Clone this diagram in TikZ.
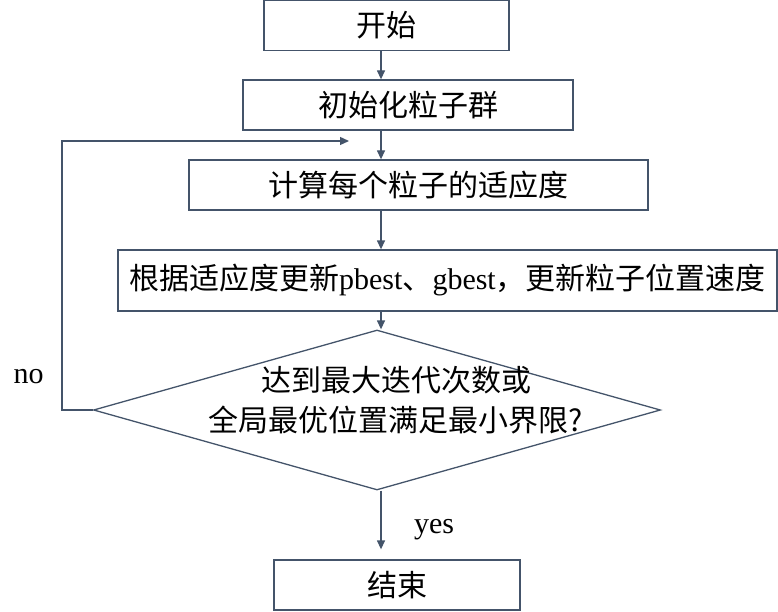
\documentclass[tikz,border=0pt]{standalone}
\usepackage{fontspec}
\setmainfont{Liberation Serif}
\newfontfamily\cjk{Noto Sans CJK SC}
\usepackage{tikz}
\usetikzlibrary{positioning, arrows.meta, shapes.geometric}
\definecolor{linegray}{HTML}{44546A}

\begin{document}
\begin{tikzpicture}[
                x=1pt, y=-1pt,
                boxnode/.style={draw=linegray, line width=1.3pt, rectangle, inner sep=0pt, minimum height=50pt, font=\fontsize{30}{40}\selectfont},
                decnode/.style={draw=linegray, line width=1.3pt, diamond, inner sep=0pt, minimum width=567pt, minimum height=160pt},
                cjktxt/.style={inner sep=0pt, font=\fontsize{30}{40}\selectfont\cjk},
                txt/.style={inner sep=0pt, font=\fontsize{30}{40}\selectfont},
                arr/.style={draw=linegray, line width=1.3pt, -{Triangle[length=9pt, width=8pt]}}
                ]
                \useasboundingbox (0,0) rectangle (778,612);

                % 상자 배치
                \node[boxnode, minimum width=245pt] (start) at (386.5,25.5) {\cjk 开始};
                \node[boxnode, minimum width=330pt] (init) at (408,105) {\cjk 初始化粒子群};
                \node[boxnode, minimum width=459pt] (fitness) at (418.5,185) {\cjk 计算每个粒子的适应度};
                \node[boxnode, minimum width=659pt, minimum height=61pt] (update) at (447.5,280.5) {{\cjk 根据适应度更新}pbest{\cjk 、}gbest{\cjk ，更新粒子位置速度}};
                \node[decnode] (check) at (377,410) {};
                \node[cjktxt, align=center] (checktext) at (396,400) {达到最大迭代次数或\\全局最优位置满足最小界限?};
                \node[boxnode, minimum width=246pt] (finish) at (397,585) {\cjk 结束};

                % 보조 좌표
                \coordinate (axis) at (381,0);
                \coordinate (back) at (62,0);
                \coordinate (loopend) at (349,141);

                % 화살표 연결
                \draw[arr] (start.south -| axis) -- (init.north -| axis);
                \draw[arr] (init.south -| axis) -- (fitness.north -| axis);
                \draw[arr] (fitness.south -| axis) -- (update.north -| axis);
                \draw[arr] (update.south -| axis) -- (check.north -| axis);
                \draw[arr, shorten >=10pt] (check.south -| axis) -- (finish.north -| axis);

                % 반복 경로
                \draw[arr] (check.west) -- (check.west -| back) |- (loopend);

                % 분기 표기
                \node[txt] (yes) at (434,529.5) {yes};
                \node[txt] (no) at (28.5,376.5) {no};
            \end{tikzpicture}
\end{document}
